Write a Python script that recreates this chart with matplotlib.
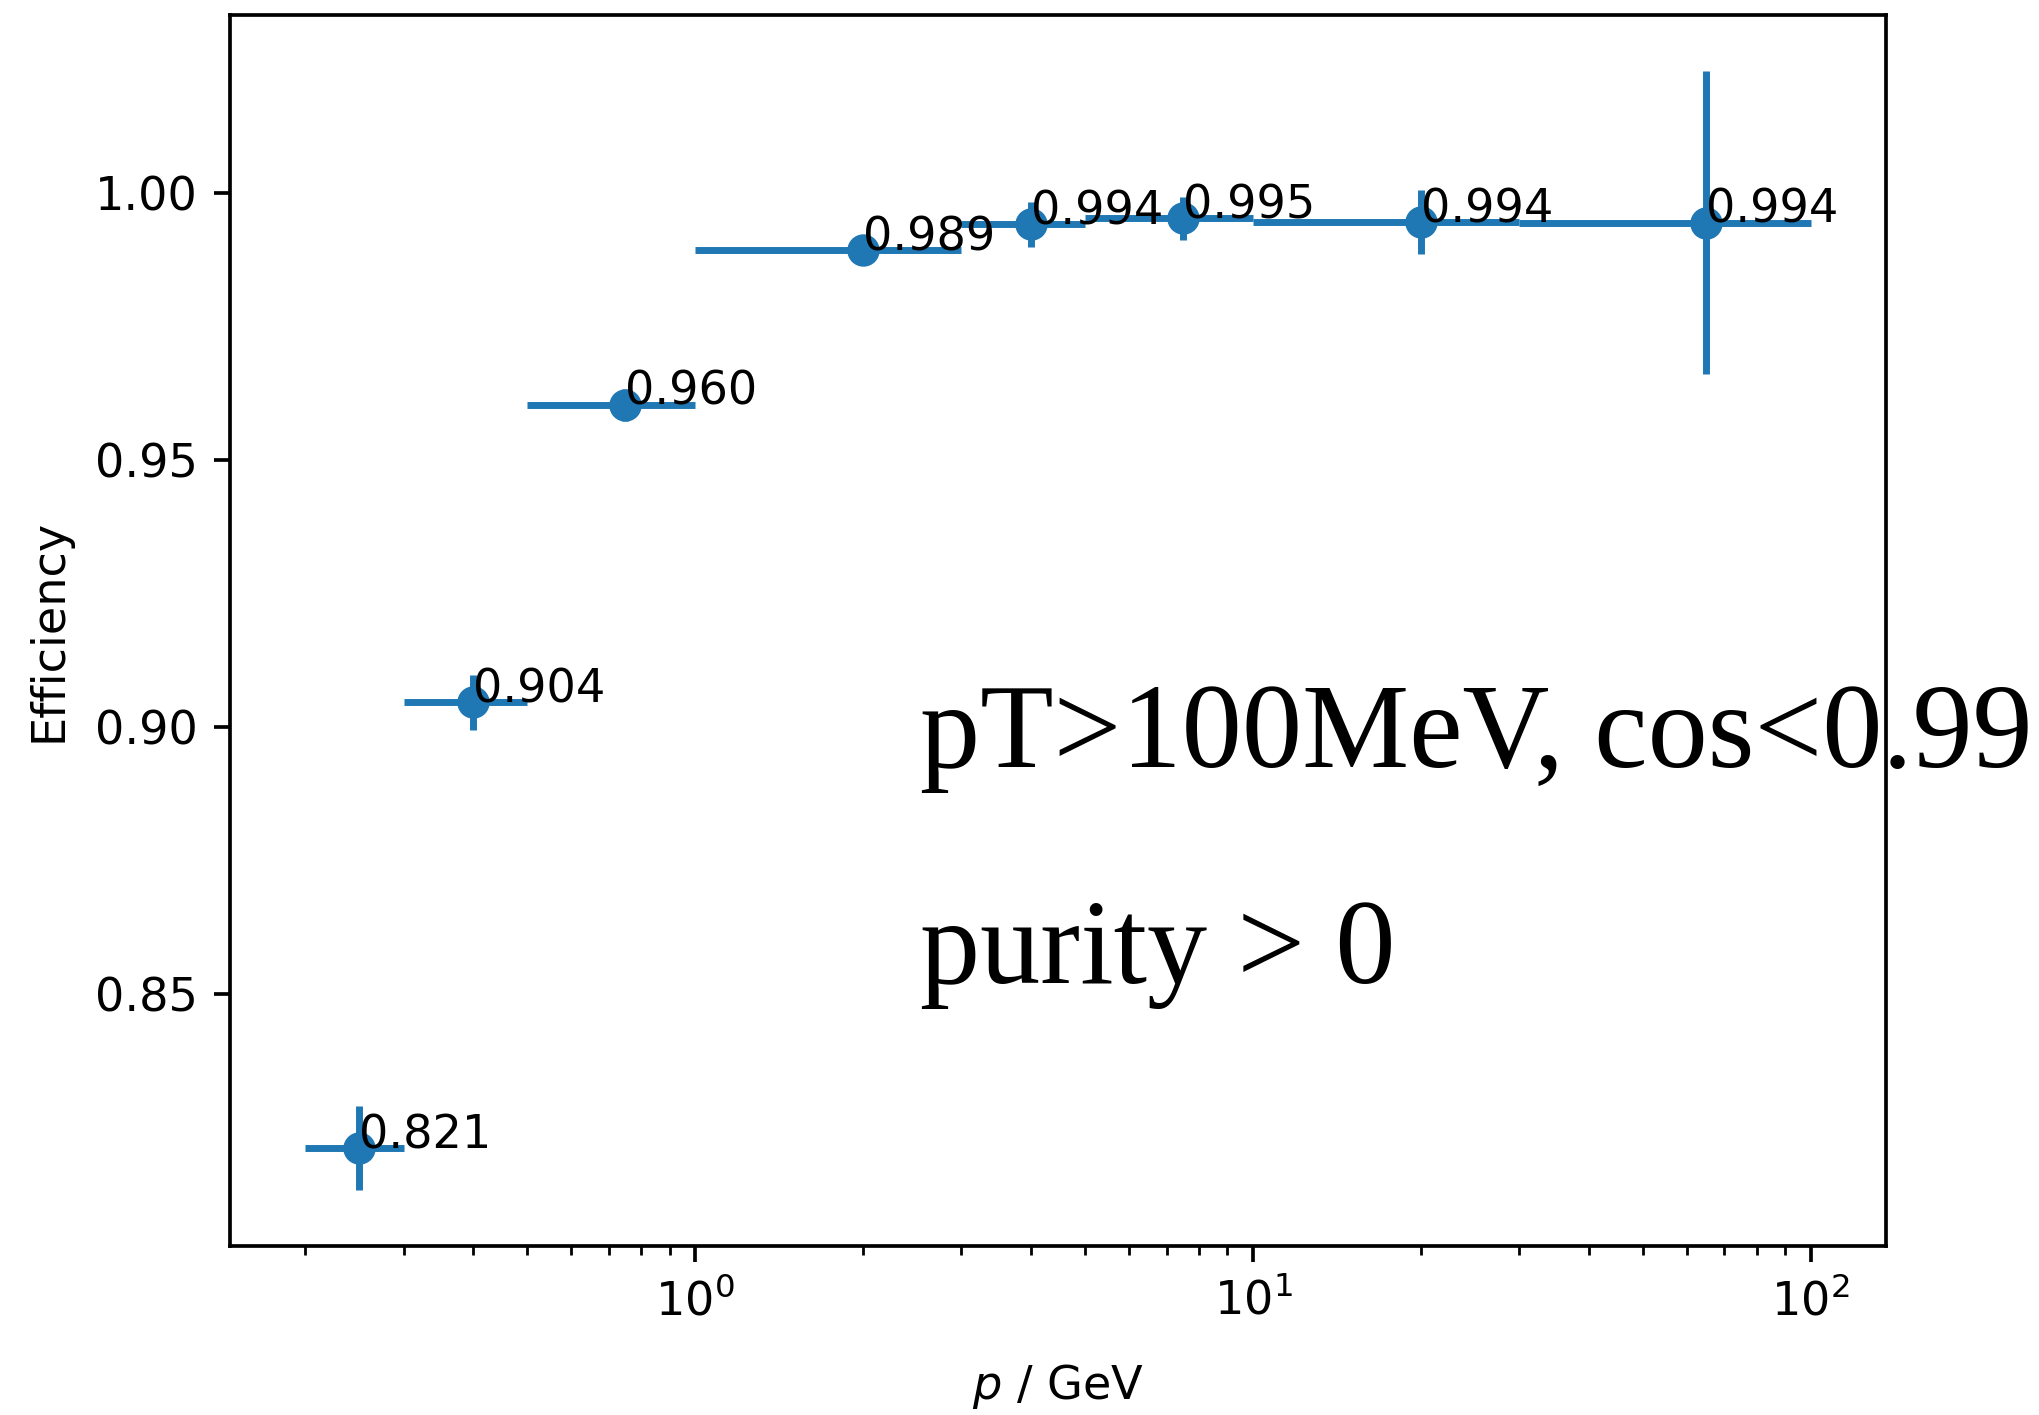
import matplotlib
matplotlib.use('Agg')
import matplotlib.pyplot as plt

# bin edges in p (GeV) and efficiency per bin
edges_lo = [0.2, 0.3, 0.5, 1.0, 3.0, 5.0, 10.0, 30.0]
edges_hi = [0.3, 0.5, 1.0, 3.0, 5.0, 10.0, 30.0, 100.0]
p_center = [0.25, 0.4, 0.75, 2.0, 4.0, 7.5, 20.0, 65.0]
eff = [0.8212, 0.9047, 0.9604, 0.9893, 0.9942, 0.9953, 0.9946, 0.9945]
eff_err = [0.0079, 0.0051, 0.0030, 0.0025, 0.0042, 0.0040, 0.0060, 0.0284]
eff_labels = ['0.821', '0.904', '0.960', '0.989', '0.994', '0.995', '0.994', '0.994']

xerr_lo = [c - lo for c, lo in zip(p_center, edges_lo)]
xerr_hi = [hi - c for c, hi in zip(p_center, edges_hi)]

fig = plt.figure(figsize=(2039 / 333, 1415 / 333), dpi=333)
ax = fig.add_axes([0.1128, 0.1191, 0.8122, 0.8703])

ax.errorbar(p_center, eff, xerr=[xerr_lo, xerr_hi], yerr=eff_err, fmt='o')
for x, y, lab in zip(p_center, eff, eff_labels):
    ax.text(x, y, lab)

ax.set_xscale('log')
ax.set_xlabel('$p$ / GeV', labelpad=8)
ax.set_ylabel('Efficiency', labelpad=5)

# cut description (runs off the right edge, as in the original)
fig.text(0.451, 0.458, 'pT>100MeV, cos<0.99', family='Liberation Serif', fontsize=26, va='baseline')
fig.text(0.451, 0.3053, 'purity > 0', family='Liberation Serif', fontsize=26, va='baseline')

fig.savefig('out.png', dpi=333)
